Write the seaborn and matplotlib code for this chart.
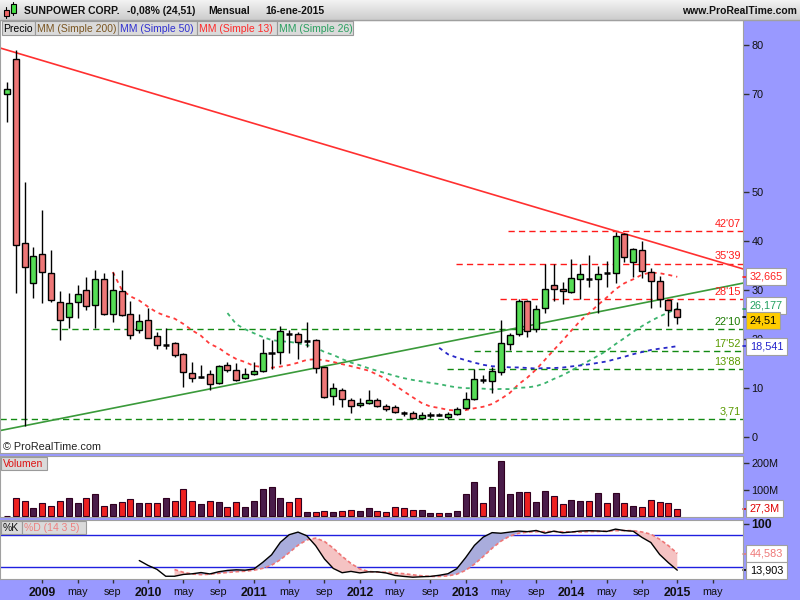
import numpy as np
import pandas as pd
import matplotlib
matplotlib.use("Agg")
import matplotlib.pyplot as plt
import matplotlib.transforms as mtrans
from matplotlib.patches import Rectangle
from matplotlib.colors import LinearSegmentedColormap
import seaborn as sns

sns.set_theme(style="white")
plt.rcParams['font.family'] = ['Liberation Sans', 'DejaVu Sans']

# velas mensuales sep-2008 .. ene-2015 (indice 0 = sep 2008)
opens = [70.0, 77.1, 39.5, 31.4, 37.3, 33.4, 27.5, 24.4, 27.6, 29.9,
         26.9, 32.2, 25.0, 29.7, 25.2, 21.8, 23.8, 20.6, 18.7, 19.1,
         16.9, 13.0, 12.2, 12.8, 11.0, 14.6, 13.6, 12.0, 12.8, 13.5,
         17.0, 17.3, 21.1, 21.0, 19.4, 19.8, 14.2, 8.4, 9.5, 7.5,
         6.5, 6.9, 7.5, 6.3, 6.1, 4.85, 4.8, 3.8, 4.4, 4.5,
         4.1, 4.6, 5.9, 7.7, 11.7, 11.5, 13.3, 19.0, 21.0, 27.8,
         22.0, 26.3, 31.0, 30.1, 29.5, 32.2, 32.4, 32.2, 33.45, 33.4,
         41.4, 35.8, 38.1, 33.6, 31.8, 27.9, 26.1]
highs = [72.5, 79.0, 52.1, 38.8, 46.3, 38.2, 29.8, 29.3, 31.0, 32.6,
         34.1, 33.4, 33.7, 34.1, 27.8, 25.0, 26.3, 21.4, 22.2, 19.3,
         17.1, 15.2, 14.6, 13.6, 14.6, 15.2, 15.0, 14.0, 15.4, 19.9,
         19.8, 22.7, 21.8, 21.4, 23.4, 20.0, 14.3, 11.0, 9.9, 7.9,
         7.9, 9.6, 7.9, 6.7, 6.5, 5.4, 5.2, 5.0, 5.0, 4.8,
         5.0, 6.1, 9.1, 13.8, 12.7, 14.3, 23.9, 21.2, 28.2, 28.0,
         26.9, 35.3, 35.3, 31.7, 36.3, 35.4, 37.1, 34.8, 35.9, 41.9,
         41.6, 38.5, 40.0, 34.5, 32.9, 28.0, 27.5]
lows = [64.3, 29.4, 2.2, 28.3, 27.4, 27.6, 19.7, 22.2, 24.2, 25.9,
        22.2, 24.9, 23.5, 24.6, 19.9, 21.2, 20.2, 17.9, 17.9, 16.3,
        10.1, 11.2, 12.0, 9.5, 10.9, 13.2, 11.5, 11.8, 12.6, 13.3,
        13.8, 14.8, 17.1, 15.9, 18.4, 13.1, 8.0, 6.6, 6.2, 4.8,
        6.1, 6.7, 6.1, 5.2, 4.8, 4.3, 3.7, 3.7, 3.8, 4.2,
        3.7, 4.4, 5.8, 7.5, 11.0, 8.9, 12.7, 17.8, 20.6, 20.5,
        21.5, 25.4, 27.8, 27.1, 29.3, 28.2, 30.7, 25.4, 30.7, 31.4,
        35.8, 32.6, 32.4, 26.3, 26.6, 22.7, 23.1]
closes = [71.0, 39.2, 34.6, 37.0, 33.6, 28.0, 23.8, 27.3, 29.1, 26.7,
          32.2, 25.2, 29.9, 24.8, 20.8, 23.6, 20.3, 18.7, 18.8, 16.7,
          13.2, 12.0, 12.3, 10.8, 14.4, 13.6, 11.6, 12.8, 13.4, 17.1,
          17.1, 21.7, 21.0, 19.3, 19.5, 14.0, 8.1, 9.9, 7.7, 6.3,
          6.9, 7.5, 6.3, 5.7, 5.0, 4.8, 3.8, 4.4, 4.45, 4.4,
          4.6, 5.7, 7.7, 11.8, 11.6, 13.5, 19.2, 20.8, 27.8, 21.6,
          26.1, 30.1, 30.3, 29.7, 32.4, 33.2, 32.3, 33.3, 33.4, 41.0,
          36.7, 38.3, 33.9, 31.8, 28.2, 25.9, 24.51]
vol_m = [1, 67, 59, 32, 48, 40, 59, 67, 48, 69,
         82, 40, 44, 54, 63, 48, 51, 48, 67, 59,
         101, 59, 47, 59, 52, 35, 54, 35, 59, 101,
         109, 69, 52, 67, 16, 14, 18, 14, 18, 25,
         18, 29, 21, 14, 35, 32, 23, 23, 13, 13,
         13, 20, 82, 130, 51, 111, 210, 82, 92, 92,
         54, 96, 77, 47, 62, 58, 58, 86, 51, 86,
         51, 39, 35, 62, 54, 48, 27.3]

# eje x: meses con etiqueta
x_ticks = [4, 8, 12, 16, 20, 24, 28, 32, 36, 40, 44, 48, 52, 56, 60, 64, 68, 72, 76, 80]
x_labels = ['2009', 'may', 'sep', '2010', 'may', 'sep', '2011', 'may', 'sep',
            '2012', 'may', 'sep', '2013', 'may', 'sep', '2014', 'may', 'sep',
            '2015', 'may']
price_ticks = [0, 10, 20, 30, 40, 50, 70, 80]

# soportes / resistencias
level_vals = [42.07, 35.39, 28.15, 22.10, 17.52, 13.88, 3.71]
level_txt = ["42'07", "35'39", "28'15", "22'10", "17'52", "13'88", "3,71"]
level_from = [56.8, 50.9, 55.9, 4.95, 52.9, 49.9, -0.8]

# lineas de tendencia
trend_x = [-0.8, 83.45]
trend_red = [79.4, 34.3]
trend_green = [1.3, 31.4]

# valores actuales en el eje: valor, posicion de la etiqueta, texto, color, fondo
price_tags = [(32.665, 32.8, '32,665', '#ff2020', 'white'),
              (26.177, 26.75, '26,177', '#22a060', 'white'),
              (24.51, 23.85, '24,51', '#000000', '#ffcc00'),
              (18.541, 18.55, '18,541', '#2222cc', 'white')]
vol_tag = (27.3, '27,3M')
stoch_tags = [(44.583, '44,583', '#ee7777'), (13.903, '13,903', '#000000')]

# ---- calculos
idx = np.arange(len(closes))
o = np.array(opens); c = np.array(closes)
h = np.array(highs); l = np.array(lows)
s_close = pd.Series(closes)
ma13 = s_close.rolling(13).mean()
ma26 = s_close.rolling(26).mean()
ma50 = s_close.rolling(50).mean()
hh = pd.Series(highs).rolling(14).max()
ll = pd.Series(lows).rolling(14).min()
k_fast = 100 * (s_close - ll) / (hh - ll)
k_slow = k_fast.rolling(3).mean()
d_line = k_slow.rolling(5).mean()

# ---- figura
fig = plt.figure(figsize=(8, 6), dpi=100)
fig.patch.set_facecolor('#9999ff')


def px_axes(x0, y0, x1, y1):
    return fig.add_axes([x0 / 800, 1 - y1 / 600, (x1 - x0) / 800, (y1 - y0) / 600])


ax_p = px_axes(0, 20, 743, 453)
ax_v = px_axes(0, 456, 743, 517)
ax_s = px_axes(0, 520, 743, 579)
for ax in (ax_p, ax_v, ax_s):
    ax.set_facecolor('white')
    for sp in ax.spines.values():
        sp.set_color('#a0a0a0')
        sp.set_linewidth(0.8)
    ax.set_xlim(-0.79, 83.45)
    ax.yaxis.tick_right()
    ax.tick_params(axis='y', direction='out', length=4, width=1, color='#333333',
                   labelsize=7.8, pad=2, labelcolor='#111111', right=True, left=False)

tag_box = dict(boxstyle='square,pad=0.32', ec='#a0a0a0', lw=0.8)

# ---- precio
ax_p.set_ylim(-3.27, 85.1)
tr_p = mtrans.blended_transform_factory(ax_p.transAxes, ax_p.transData)

for v, t, x0 in zip(level_vals, level_txt, level_from):
    col = '#ff1a1a' if v > 25 else '#138a13'
    ax_p.hlines(v, x0, 83.45, color=col, lw=1.0, linestyle=(0, (4.5, 3)), zorder=2)
    tcol = '#ff1a1a' if v > 25 else ('#1a7a00' if v > 20 else '#5a9a00')
    ax_p.annotate(t, xy=(0.997, v), xycoords=tr_p, xytext=(0, 1.5),
                  textcoords='offset points', ha='right', va='bottom',
                  color=tcol, fontsize=7.8, zorder=6)

sns.lineplot(x=trend_x, y=trend_red, ax=ax_p, color='#ff3030', lw=1.2, zorder=2)
sns.lineplot(x=trend_x, y=trend_green, ax=ax_p, color='#3a9a3a', lw=1.2, zorder=2)

ma_styles = [(ma13, '#ff3b3b'), (ma26, '#3cb46e'), (ma50, '#2828c8')]
for ma, col in ma_styles:
    ok = ma.notna()
    sns.lineplot(x=idx[ok], y=ma[ok].values, ax=ax_p, color=col, lw=1.3,
                 linestyle=(0, (2.2, 2.2)), zorder=2.5)

ax_p.vlines(idx, l, h, color='black', lw=1, zorder=3)
body_lo = np.minimum(o, c)
body_h = np.abs(c - o)
doji = body_h < 0.3
up = c >= o
body_col = np.where(up, '#55dd55', '#ee7777')
ax_p.bar(idx[~doji], body_h[~doji], bottom=body_lo[~doji], width=0.68,
         color=body_col[~doji], edgecolor='black', linewidth=1, zorder=4)
ax_p.hlines(c[doji], idx[doji] - 0.36, idx[doji] + 0.36, color='black', lw=1.8, zorder=4)

ax_p.set_yticks(price_ticks)
ax_p.set_yticklabels([str(t) for t in price_ticks])
ax_p.set_xticks([])
ax_p.set_xlabel('')
ax_p.set_ylabel('')

for v, vy, t, tc, fc in price_tags:
    ax_p.plot([1.0, 1.006], [v, v], transform=tr_p, clip_on=False, color=tc, lw=1.2, zorder=7)
    ax_p.text(1.009, vy, t, transform=tr_p, ha='left', va='center', fontsize=7.8,
              color=tc, zorder=8, clip_on=False, bbox=dict(tag_box, fc=fc))

# ---- volumen
ax_v.set_ylim(-3.4, 227.7)
vcol = np.where(up, '#4a1c4a', '#ee2020')
ax_v.bar(idx, vol_m, width=0.68, color=vcol, edgecolor='#300020', linewidth=0.8, zorder=3)
ax_v.set_yticks([100, 200])
ax_v.set_yticklabels(['100M', '200M'])
ax_v.set_xticks([])
tr_v = mtrans.blended_transform_factory(ax_v.transAxes, ax_v.transData)
ax_v.plot([1.0, 1.006], [vol_tag[0]] * 2, transform=tr_v, clip_on=False, color='#dd0000', lw=1.2)
ax_v.text(1.009, vol_tag[0], vol_tag[1], transform=tr_v, ha='left', va='center',
          fontsize=7.8, color='#dd0000', zorder=8, clip_on=False, bbox=dict(tag_box, fc='white'))

# ---- estocastico
ax_s.set_ylim(-1.9, 106.9)
ax_s.axhline(80, color='#2020e0', lw=1, zorder=2)
ax_s.axhline(20, color='#2020e0', lw=1, zorder=2)
both = d_line.notna()
kk = k_slow[both].values
dd = d_line[both].values
xx = idx[both]
ax_s.fill_between(xx, kk, dd, where=kk >= dd, interpolate=True, color='#a9acdc', lw=0, zorder=3)
ax_s.fill_between(xx, kk, dd, where=kk < dd, interpolate=True, color='#f5c3c3', lw=0, zorder=3)
okk = k_slow.notna()
sns.lineplot(x=idx[okk], y=k_slow[okk].values, ax=ax_s, color='black', lw=1.0, zorder=5)
sns.lineplot(x=xx, y=dd, ax=ax_s, color='#ee7777', lw=1.2, linestyle=(0, (2.2, 1.5)), zorder=4)
ax_s.set_yticks([100])
ax_s.set_yticklabels(['100'], fontweight='bold', fontsize=8.8)
ax_s.set_xlabel('')
ax_s.set_ylabel('')
tr_s = mtrans.blended_transform_factory(ax_s.transAxes, ax_s.transData)
for v, t, tc in stoch_tags:
    ax_s.plot([1.0, 1.006], [v, v], transform=tr_s, clip_on=False, color=tc, lw=1.2)
    ax_s.text(1.009, v, t, transform=tr_s, ha='left', va='center', fontsize=7.8,
              color=tc, zorder=8, clip_on=False, bbox=dict(tag_box, fc='white'))

ax_s.set_xticks(x_ticks)
ax_s.set_xticklabels(x_labels)
ax_s.tick_params(axis='x', direction='out', length=3, width=1, color='#333333',
                 pad=3, labelsize=7.8, labelcolor='#111111', bottom=True)
for lab in ax_s.get_xticklabels():
    if lab.get_text().isdigit():
        lab.set_fontweight('bold')
        lab.set_fontsize(8.8)

# ---- capa de adornos (coordenadas en pixeles)
ax_o = fig.add_axes([0, 0, 1, 1], zorder=20)
ax_o.patch.set_alpha(0)
ax_o.axis('off')
grad = np.linspace(0, 1, 20).reshape(-1, 1)
cmap = LinearSegmentedColormap.from_list('bar', ['#f2f2f2', '#cdcdcd'])
ax_o.imshow(grad, extent=(0, 800, 20, 0), cmap=cmap, aspect='auto', zorder=1)
ax_o.set_xlim(0, 800)
ax_o.set_ylim(600, 0)
ax_o.plot([0, 800], [20, 20], color='#a0a0a0', lw=1, zorder=2)

# icono de velas
ax_o.plot([6, 6], [7, 18], color='black', lw=0.8, zorder=3)
ax_o.add_patch(Rectangle((3.5, 10), 5, 6, fc='#ee6666', ec='black', lw=0.8, zorder=4))
ax_o.plot([13, 13], [2, 15], color='black', lw=0.8, zorder=3)
ax_o.add_patch(Rectangle((10.5, 4), 5, 9, fc='#44dd44', ec='black', lw=0.8, zorder=4))

title_parts = [('SUNPOWER CORP.', 24), ('-0,08% (24,51)', 127), ('Mensual', 208), ('16-ene-2015', 265)]
for t, x in title_parts:
    ax_o.text(x, 11, t, fontsize=7.5, fontweight='bold', color='#111111', va='center', ha='left', zorder=5)
ax_o.text(797, 11, 'www.ProRealTime.com', fontsize=7.5, fontweight='bold', color='#111111',
          va='center', ha='right', zorder=5)

legend_items = [('Precio', '#000000', 1.5, 35), ('MM (Simple 200)', '#7a5520', 35, 118),
                ('MM (Simple 50)', '#3030d0', 118, 197), ('MM (Simple 13)', '#ff2a2a', 197, 277),
                ('MM (Simple 26)', '#2aa060', 277, 353)]
for t, col, x0, x1 in legend_items:
    ax_o.add_patch(Rectangle((x0, 21), x1 - x0, 14, fc='#dadada', ec='#9a9a9a', lw=0.8, zorder=3))
    ax_o.text(x0 + 2, 28.5, t, fontsize=7.5, color=col, va='center', ha='left', zorder=5)

ax_o.text(3, 447, '\u00a9 ProRealTime.com', fontsize=7.8, color='#222222', va='center', ha='left', zorder=5)

panel_boxes = [('Volumen', '#dd1111', 1, 457, 47, 470), ('%K', '#111111', 1, 521, 22, 534),
               ('%D (14 3 5)', '#ee8080', 22, 521, 86, 534)]
for t, col, x0, y0, x1, y1 in panel_boxes:
    ax_o.add_patch(Rectangle((x0, y0), x1 - x0, y1 - y0, fc='#dadada', ec='#9a9a9a', lw=0.8, zorder=3))
    ax_o.text(x0 + 2, (y0 + y1) / 2 + 0.5, t, fontsize=7.5, color=col, va='center', ha='left', zorder=5)

fig.savefig('out.png', dpi=100, facecolor=fig.get_facecolor())
